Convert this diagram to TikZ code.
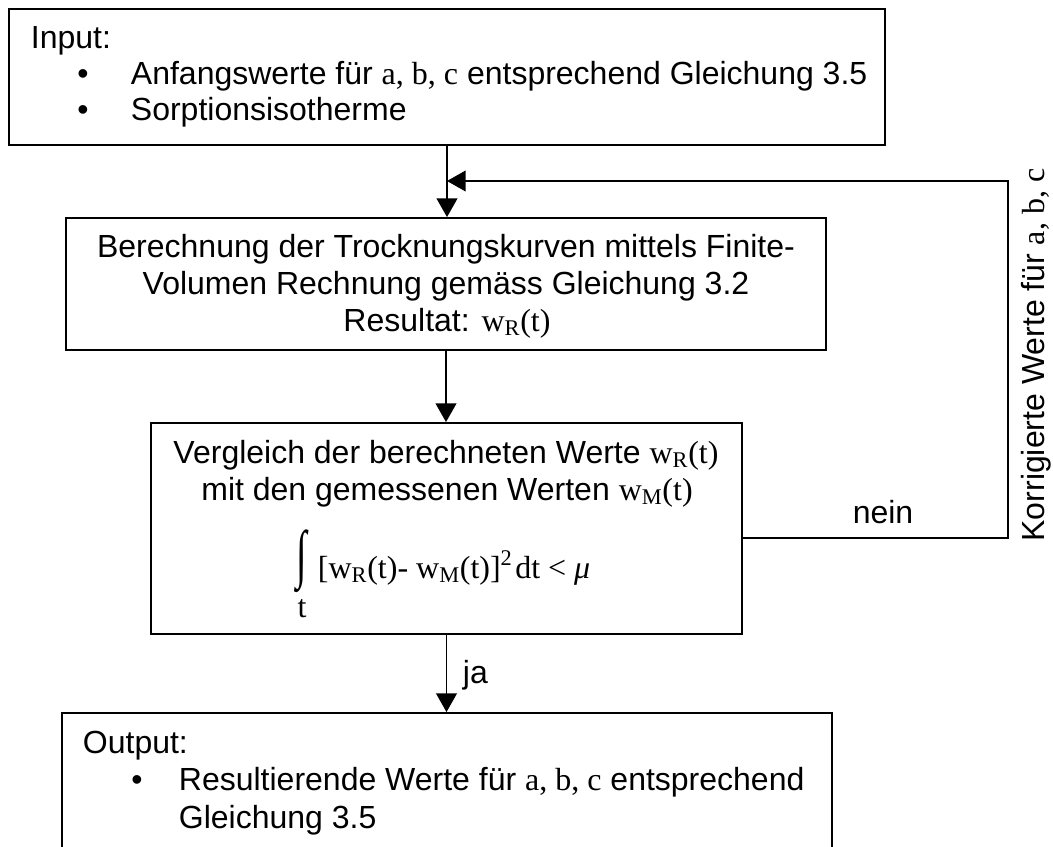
\documentclass[tikz,border=0pt]{standalone}
\usepackage{fontspec}
\setmainfont{Liberation Sans}
\newfontfamily\tms{Liberation Serif}
\usepackage{graphicx}
\usetikzlibrary{arrows.meta,fit}
\newcommand{\wsub}[1]{{\tms w\textsubscript{#1}(t)}}
\newcommand{\abcvals}{{\tms a, b, c}}
\begin{document}
\begin{tikzpicture}[x=0.75pt,y=-0.75pt,line width=1.4pt,
  box/.style={draw, inner sep=0pt, line width=1.4pt},
  txt/.style={font=\fontsize{24}{27}\selectfont, inner sep=0pt},
  arr/.style={-{Triangle[length=14pt,width=15.5pt]}}]
\useasboundingbox (0,0) rectangle (1053,846);
\clip (0,0) rectangle (1053,846);
% boxes
\node[box, fit={(9,9) (885,145)}] (in) {};
\node[box, fit={(66,218) (826,350)}] (calc) {};
\node[box, fit={(151,423) (742,634)}] (cmp) {};
\node[box, fit={(62,713) (832,900)}] (out) {};
% input text
\node[txt, anchor=base west] (inT) at (30,48) {Input:};
\node[txt, anchor=base] (inb1) at (83,84) {•};
\node[txt, anchor=base west] (in1) at (130,84) {Anfangswerte für \abcvals{} entsprechend Gleichung 3.5};
\node[txt, anchor=base] (inb2) at (83,120) {•};
\node[txt, anchor=base west] (in2) at (130,120) {Sorptionsisotherme};
% calc text
\node[txt, anchor=base] (c1) at (446,257) {Berechnung der Trocknungskurven mittels Finite-};
\node[txt, anchor=base] (c2) at (446,294) {Volumen Rechnung gemäss Gleichung 3.2};
\node[txt, anchor=base] (c3) at (447,331) {Resultat: \wsub{R}};
% compare text
\node[txt, anchor=base] (v1) at (446,463) {Vergleich der berechneten Werte \wsub{R}};
\node[txt, anchor=base] (v2) at (447,500) {mit den gemessenen Werten \wsub{M}};
\node[txt] (intg) at (302,561) {\tms\scalebox{1.2}[2.0]{∫}};
\node[txt, anchor=base] (intt) at (302,617) {\tms t};
\node[txt, anchor=base west] (form) at (317,578) {\tms [w\textsubscript{R}(t)- w\textsubscript{M}(t)]\textsuperscript{2}\kern2pt dt < \textit{μ}};
% output text
\node[txt, anchor=base west] (outT) at (82,753) {Output:};
\node[txt, anchor=base] (outb1) at (137,790) {•};
\node[txt, anchor=base west] (o1) at (178,790) {Resultierende Werte für \abcvals{} entsprechend};
\node[txt, anchor=base west] (o2) at (178,828) {Gleichung 3.5};
% labels
\node[txt, anchor=base west] (ja) at (462,683) {ja};
\node[txt, anchor=base] (nein) at (883,523) {nein};
\node[txt, anchor=base, rotate=90] (korr) at (1044,355) {Korrigierte Werte für \abcvals};
% connectors
\draw[arr] (in.south) -- (in.south |- calc.north);
\draw[arr] (calc.south) -- (calc.south |- cmp.north);
\draw[arr] (cmp.south) -- (cmp.south |- out.north);
\coordinate (n1) at (1008,538);
\coordinate (n2) at (1008,181);
\draw[arr] (cmp.east |- n1) -- (n1) -- (n2) -- (in.south |- n2);
\end{tikzpicture}
\end{document}
